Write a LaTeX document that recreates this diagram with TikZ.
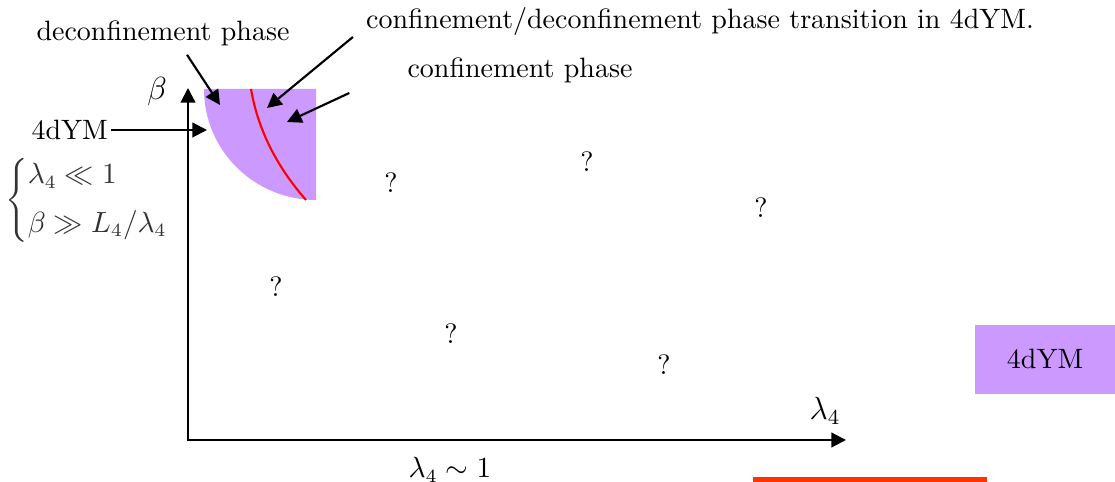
\documentclass[tikz,border=0pt]{standalone}
\usepackage{amsmath,amssymb}
\usepackage{xcolor}
\usepackage{tikz}
\usetikzlibrary{arrows.meta, positioning}
\definecolor{PhaseViolet}{HTML}{CC99FF}
\definecolor{EdgeOrange}{HTML}{FF3300}

\begin{document}
\begin{tikzpicture}[
    x=0.375pt, y=-0.375pt,
    font=\fontsize{10.5}{12.6}\selectfont,
    axis/.style={-{Triangle[length=5.5pt, width=5.5pt]}, line width=0.8pt},
    arrow/.style={-{Triangle[length=5.5pt, width=5.5pt]}, line width=0.8pt},
    lbl/.style={inner sep=1pt},
    qmark/.style={inner sep=0pt}
]
    \useasboundingbox (0,0) rectangle (1115,482);

    % phase region and transition line
    \fill[PhaseViolet] (204,89) -- (316,89) -- (316,200)
        arc[start angle=90, end angle=180, x radius=112, y radius=111] -- cycle;
    \draw[red, line width=0.8pt] (251,89) .. controls (258,130) and (277,167) .. (306,200);

    % axes
    \coordinate (origin) at (188,440);
    \coordinate (betaEnd) at (188,88);
    \coordinate (lamEnd) at (846,440);
    \draw[axis] ([yshift=-0.4pt]origin) -- (betaEnd);
    \draw[axis] (origin) -- (lamEnd);
    \node[lbl, font=\large] (betaLbl) at (157,92) {$\beta$};
    \node[lbl, font=\large] (lamLbl) at (825,411) {$\lambda_4$};
    \node[lbl] (lamOne) at (450,470) {$\lambda_4 \sim 1$};

    % labels with arrows
    \node[lbl] (deconf) at (163,33) {deconfinement phase};
    \node[lbl] (trans) at (700,22) {confinement/deconfinement phase transition in 4dYM.};
    \node[lbl] (conf) at (520,70) {confinement phase};
    \node[lbl, anchor=east] (ym) at (111,130) {4dYM};
    \coordinate (deconfTip) at (220,105);
    \coordinate (transTip) at (267,108);
    \coordinate (confTip) at (287,122);
    \coordinate (ymTip) at (207,130);
    \draw[arrow] ([shift={(24,6)}]deconf.south) -- (deconfTip);
    \draw[arrow] ([shift={(-10,15)}]trans.west) -- (transTip);
    \draw[arrow] ([shift={(-55,23)}]conf.west) -- (confTip);
    \draw[arrow] (ym.east) -- (ymTip);

    \node[lbl, anchor=west, text=black!80] (cond) at (2,200)
        {$\begin{cases}\lambda_4 \ll 1\\[3pt] \beta \gg L_4/\lambda_4\end{cases}$};

    % unknown regions
    \node[qmark] (q1) at (587,162) {?};
    \node[qmark] (q2) at (391,183) {?};
    \node[qmark] (q3) at (761,208) {?};
    \node[qmark] (q4) at (276,287) {?};
    \node[qmark] (q5) at (451,334) {?};
    \node[qmark] (q6) at (664,365) {?};

    % legend
    \node[fill=PhaseViolet, minimum width=52.9pt, minimum height=25.9pt,
          inner sep=0pt, anchor=north west] (legend) at (974,324) {4dYM};
    \coordinate (edgeA) at (753,479.5);
    \coordinate (edgeB) at (987,479.5);
    \draw[EdgeOrange, line width=1.7pt] (edgeA) -- (edgeB);
\end{tikzpicture}
\end{document}
